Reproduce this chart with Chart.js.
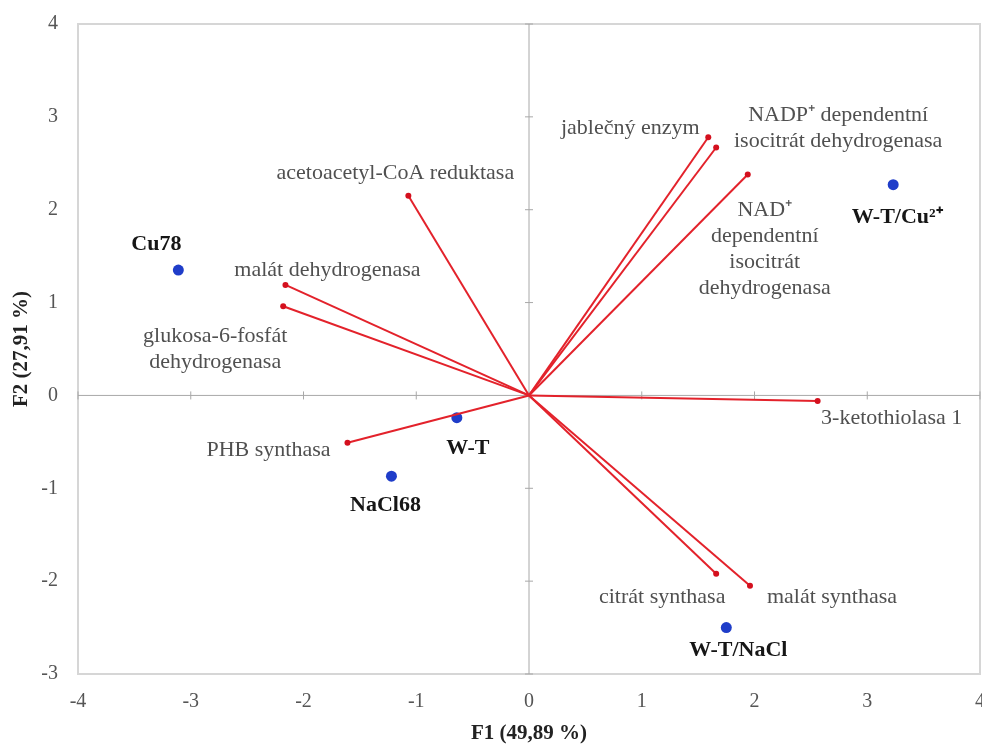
<!DOCTYPE html>
<html>
<head>
<meta charset="utf-8">
<script src="https://cdn.jsdelivr.net/npm/chart.js@4.4.0/dist/chart.umd.min.js"></script>
<style>
  body { margin: 0; background: #fff; }
  canvas { display: block; }
</style>
</head>
<body>
<canvas id="biplot" width="982" height="744"></canvas>
<script>
// enzyme loadings on F1 / F2
const enzymes = [
  ["acetoacetyl-CoA reduktasa"],
  ["malát dehydrogenasa"],
  ["glukosa-6-fosfát", "dehydrogenasa"],
  ["PHB synthasa"],
  ["jablečný enzym"],
  ["NADP⁺ dependentní", "isocitrát dehydrogenasa"],
  ["NAD⁺", "dependentní", "isocitrát", "dehydrogenasa"],
  ["3-ketothiolasa 1"],
  ["citrát synthasa"],
  ["malát synthasa"]
];
const enzymeF1 = [-1.07, -2.16, -2.18, -1.61, 1.59, 1.66, 1.94, 2.56, 1.66, 1.96];
const enzymeF2 = [2.15, 1.19, 0.96, -0.51, 2.78, 2.67, 2.38, -0.06, -1.92, -2.05];

// strain scores
const strains = ["Cu78", "W-T/Cu²⁺", "W-T", "NaCl68", "W-T/NaCl"];
const strainF1 = [-3.11, 3.23, -0.64, -1.22, 1.75];
const strainF2 = [1.35, 2.27, -0.24, -0.87, -2.50];

const xTicks = [-4, -3, -2, -1, 0, 1, 2, 3, 4];
const yTicks = [-3, -2, -1, 0, 1, 2, 3, 4];

// where each label sits relative to its mark (px)
const enzymeLabelOffsets = [
  [-13, -23], [42, -15], [-68, 30], [-79, 7], [-78, -9],
  [122, -32], [17, 36], [74, 17], [-54, 24], [82, 11]
];
const strainLabelOffsets = [[-22, -26], [4, 33], [11, 31], [-6, 29], [12, 23]];

const serif = "'Liberation Serif', 'Times New Roman', serif";

const vectorSets = enzymes.map((name, i) => ({
  label: name.join(" "),
  data: [{ x: 0, y: 0 }, { x: enzymeF1[i], y: enzymeF2[i] }],
  showLine: true,
  borderColor: "#e3222b",
  borderWidth: 2,
  pointRadius: [0, 3],
  pointBackgroundColor: "#d4101e",
  pointBorderWidth: 0
}));

const strainSet = {
  label: "kmeny",
  data: strains.map((s, i) => ({ x: strainF1[i], y: strainF2[i] })),
  pointRadius: 5.5,
  pointBackgroundColor: "#1f3dc9",
  pointBorderWidth: 0
};

const biplotDecor = {
  id: "biplotDecor",
  beforeDatasetsDraw(chart) {
    const { ctx, chartArea: a, scales: { x, y } } = chart;
    ctx.save();
    ctx.strokeStyle = "#d6d6d6";
    ctx.lineWidth = 2;
    ctx.strokeRect(a.left, a.top, a.right - a.left, a.bottom - a.top);

    const x0 = x.getPixelForValue(0);
    const y0 = y.getPixelForValue(0);
    ctx.strokeStyle = "#a8a8a8";
    ctx.lineWidth = 1;
    ctx.beginPath();
    ctx.moveTo(x0, a.top); ctx.lineTo(x0, a.bottom);
    ctx.moveTo(a.left, y0); ctx.lineTo(a.right, y0);
    xTicks.forEach(v => {
      const px = x.getPixelForValue(v);
      ctx.moveTo(px, y0 - 4); ctx.lineTo(px, y0 + 4);
    });
    yTicks.forEach(v => {
      const py = y.getPixelForValue(v);
      ctx.moveTo(x0 - 4, py); ctx.lineTo(x0 + 4, py);
    });
    ctx.stroke();
    ctx.restore();
  },
  afterDatasetsDraw(chart) {
    const { ctx } = chart;
    ctx.save();
    ctx.textAlign = "center";
    ctx.textBaseline = "middle";

    ctx.font = "22px " + serif;
    ctx.fillStyle = "#505050";
    enzymes.forEach((lines, i) => {
      const pt = chart.getDatasetMeta(i).data[1];
      const [dx, dy] = enzymeLabelOffsets[i];
      lines.forEach((t, k) => ctx.fillText(t, pt.x + dx, pt.y + dy + k * 26));
    });

    ctx.font = "bold 22px " + serif;
    ctx.fillStyle = "#161616";
    const meta = chart.getDatasetMeta(enzymes.length);
    strains.forEach((t, i) => {
      const pt = meta.data[i];
      const [dx, dy] = strainLabelOffsets[i];
      ctx.fillText(t, pt.x + dx, pt.y + dy);
    });
    ctx.restore();
  }
};

new Chart(document.getElementById("biplot"), {
  type: "scatter",
  data: { datasets: [...vectorSets, strainSet] },
  options: {
    responsive: false,
    animation: false,
    layout: { autoPadding: false, padding: { top: 24, right: 2, left: 0, bottom: 0 } },
    plugins: { legend: { display: false }, tooltip: { enabled: false } },
    scales: {
      x: {
        min: -4, max: 4,
        afterFit: s => { s.height = 70; s.paddingLeft = 0; s.paddingRight = 0; },
        grid: { display: false, drawTicks: false },
        border: { display: false },
        ticks: { stepSize: 1, padding: 16, color: "#555", font: { family: serif, size: 20 } },
        title: {
          display: true, text: "F1 (49,89 %)", color: "#222",
          padding: { top: 0, bottom: 0 },
          font: { family: serif, size: 21, weight: "bold", lineHeight: 1 }
        }
      },
      y: {
        min: -3, max: 4,
        afterFit: s => { s.width = 78; s.paddingTop = 0; s.paddingBottom = 0; },
        grid: { display: false, drawTicks: false },
        border: { display: false },
        ticks: { stepSize: 1, padding: 20, color: "#555", font: { family: serif, size: 20 } },
        title: {
          display: true, text: "F2 (27,91 %)", color: "#222",
          padding: { top: 11, bottom: 0 },
          font: { family: serif, size: 21, weight: "bold", lineHeight: 1 }
        }
      }
    }
  },
  plugins: [biplotDecor]
});
</script>
</body>
</html>
